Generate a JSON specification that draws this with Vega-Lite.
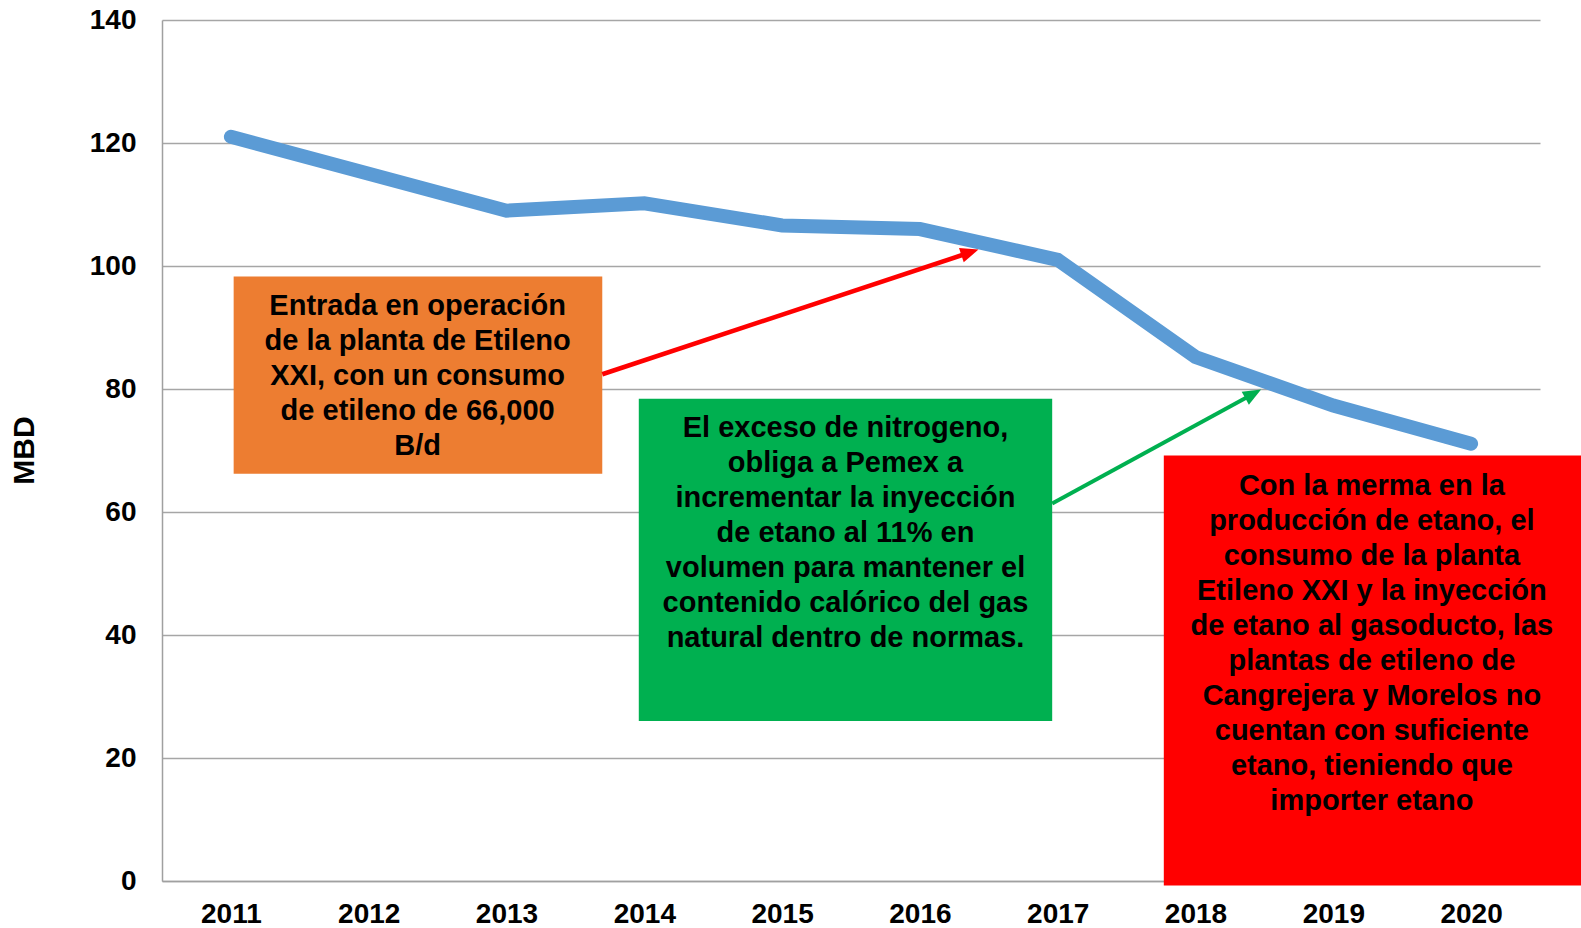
{
  "$schema": "https://vega.github.io/schema/vega-lite/v6.json",
  "autosize": {"type": "none"},
  "width": 1378,
  "height": 861,
  "padding": {"left": 162, "top": 20, "right": 41, "bottom": 47},
  "background": "white",
  "config": {
    "view": {"stroke": null},
    "font": "Liberation Sans",
    "axis": {
      "labelFont": "Liberation Sans",
      "labelFontWeight": "bold",
      "labelFontSize": 28,
      "labelColor": "#000000",
      "titleFont": "Liberation Sans",
      "titleFontWeight": "bold",
      "titleColor": "#000000",
      "domainColor": "#a0a0a0",
      "domainWidth": 1.5,
      "gridColor": "#a6a6a6",
      "gridWidth": 1.5,
      "ticks": false
    }
  },
  "datasets": {
    "series": [
      {"year": 2011, "mbd": 121.0},
      {"year": 2012, "mbd": 115.0},
      {"year": 2013, "mbd": 109.0},
      {"year": 2014, "mbd": 110.2},
      {"year": 2015, "mbd": 106.6},
      {"year": 2016, "mbd": 106.0},
      {"year": 2017, "mbd": 101.0},
      {"year": 2018, "mbd": 85.2},
      {"year": 2019, "mbd": 77.3},
      {"year": 2020, "mbd": 71.1}
    ],
    "boxes": [
      {"box": "orange", "x0": 2011.02, "x1": 2013.695, "y0": 98.3, "y1": 66.2},
      {"box": "green", "x0": 2013.96, "x1": 2016.96, "y0": 78.4, "y1": 26.0},
      {"box": "red", "x0": 2017.77, "x1": 2020.8, "y0": 69.2, "y1": -0.75}
    ],
    "notes": [
      {"box": "orange", "cx": 2012.355, "cy": 93.5, "label": "Entrada en operación\nde la planta de Etileno\nXXI, con un consumo\nde etileno de 66,000\nB/d"},
      {"box": "green", "cx": 2015.46, "cy": 73.7, "label": "El exceso de nitrogeno,\nobliga a Pemex a\nincrementar la inyección\nde etano al 11% en\nvolumen para mantener el\ncontenido calórico del gas\nnatural dentro de normas."},
      {"box": "red", "cx": 2019.28, "cy": 64.3, "label": "Con la merma en la\nproducción de etano, el\nconsumo de la planta\nEtileno XXI y la inyección\nde etano al gasoducto, las\nplantas de etileno de\nCangrejera y  Morelos no\ncuentan con suficiente\netano, tieniendo que\nimporter etano"}
    ],
    "arrowRed": [
      {"xs": 2013.695, "ys": 82.4, "xe": 2016.329, "ye": 101.95, "xt": 2016.425, "yt": 102.67}
    ],
    "arrowGreen": [
      {"xs": 2016.96, "ys": 61.4, "xe": 2018.387, "ye": 78.81, "xt": 2018.476, "yt": 79.9}
    ]
  },
  "layer": [
    {
      "data": {"name": "series"},
      "mark": {"type": "line", "color": "#5b9bd5", "strokeWidth": 14, "strokeCap": "round", "strokeJoin": "miter"},
      "encoding": {
        "x": {
          "field": "year", "type": "quantitative",
          "scale": {"domain": [2010.5, 2020.5], "nice": false, "zero": false},
          "axis": {"values": [2011, 2012, 2013, 2014, 2015, 2016, 2017, 2018, 2019, 2020], "format": "d", "grid": false, "title": null, "labelPadding": 19, "labelFlush": false}
        },
        "y": {
          "field": "mbd", "type": "quantitative",
          "scale": {"domain": [0, 140], "nice": false},
          "axis": {"values": [0, 20, 40, 60, 80, 100, 120, 140], "title": "MBD", "titleFontSize": 30, "titleAngle": 270, "titleX": -138, "titleY": 430, "titleAlign": "center", "titleBaseline": "middle", "labelPadding": 26, "grid": true}
        }
      }
    },
    {
      "data": {"name": "boxes"},
      "mark": {"type": "rect", "clip": false},
      "encoding": {
        "x": {"field": "x0", "type": "quantitative"},
        "x2": {"field": "x1"},
        "y": {"field": "y0", "type": "quantitative"},
        "y2": {"field": "y1"},
        "color": {"field": "box", "type": "nominal", "scale": {"domain": ["orange", "green", "red"], "range": ["#ed7d31", "#00b050", "#ff0000"]}, "legend": null}
      }
    },
    {
      "data": {"name": "notes"},
      "mark": {"type": "text", "font": "Liberation Sans", "fontWeight": "bold", "fontSize": 29, "lineHeight": 35, "lineBreak": "\n", "align": "center", "baseline": "middle", "color": "#000000"},
      "encoding": {
        "x": {"field": "cx", "type": "quantitative"},
        "y": {"field": "cy", "type": "quantitative"},
        "text": {"field": "label"}
      }
    },
    {
      "data": {"name": "arrowRed"},
      "mark": {"type": "rule", "color": "#ff0000", "strokeWidth": 4.5},
      "encoding": {
        "x": {"field": "xs", "type": "quantitative"},
        "y": {"field": "ys", "type": "quantitative"},
        "x2": {"field": "xe"},
        "y2": {"field": "ye"}
      }
    },
    {
      "data": {"name": "arrowRed"},
      "mark": {"type": "point", "filled": true, "opacity": 1, "color": "#ff0000", "shape": "M0,0L0.75,1.8L-0.75,1.8Z", "size": 400, "angle": 71.7},
      "encoding": {
        "x": {"field": "xt", "type": "quantitative"},
        "y": {"field": "yt", "type": "quantitative"}
      }
    },
    {
      "data": {"name": "arrowGreen"},
      "mark": {"type": "rule", "color": "#00b050", "strokeWidth": 4},
      "encoding": {
        "x": {"field": "xs", "type": "quantitative"},
        "y": {"field": "ys", "type": "quantitative"},
        "x2": {"field": "xe"},
        "y2": {"field": "ye"}
      }
    },
    {
      "data": {"name": "arrowGreen"},
      "mark": {"type": "point", "filled": true, "opacity": 1, "color": "#00b050", "shape": "M0,0L0.75,1.8L-0.75,1.8Z", "size": 400, "angle": 61.4},
      "encoding": {
        "x": {"field": "xt", "type": "quantitative"},
        "y": {"field": "yt", "type": "quantitative"}
      }
    }
  ]
}
